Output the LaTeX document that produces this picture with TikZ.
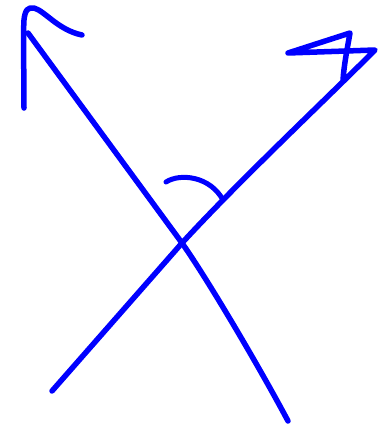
\documentclass[tikz,border=0pt]{standalone}
\begin{document}
\begin{tikzpicture}[x=1pt,y=-1pt,
  stroke/.style={draw={rgb,255:red,0;green,0;blue,255},line width=5.5pt,line cap=round,line join=round}]
\useasboundingbox (0,0) rectangle (381,431);
% long line, bottom right to top left
\draw[stroke] (288,421) .. controls (262,372) and (210,283) .. (182,243) -- (28,33);
% arrowhead at top left
\draw[stroke] (24,108) .. controls (24,70) and (23,35) .. (24,20)
  .. controls (25,10) and (28,7) .. (34,8) .. controls (45,11) and (58,30) .. (82,35);
% second line, bottom left to top right with its head
\draw[stroke] (52,391) -- (182,243)
  .. controls (240,180) and (320,105) .. (375,50)
  -- (288,53) -- (350,33) .. controls (347,50) and (344,65) .. (343,80);
% angle arc
\draw[stroke,line width=5pt] (166,182) .. controls (180,173) and (210,176) .. (223,200);
\end{tikzpicture}
\end{document}
